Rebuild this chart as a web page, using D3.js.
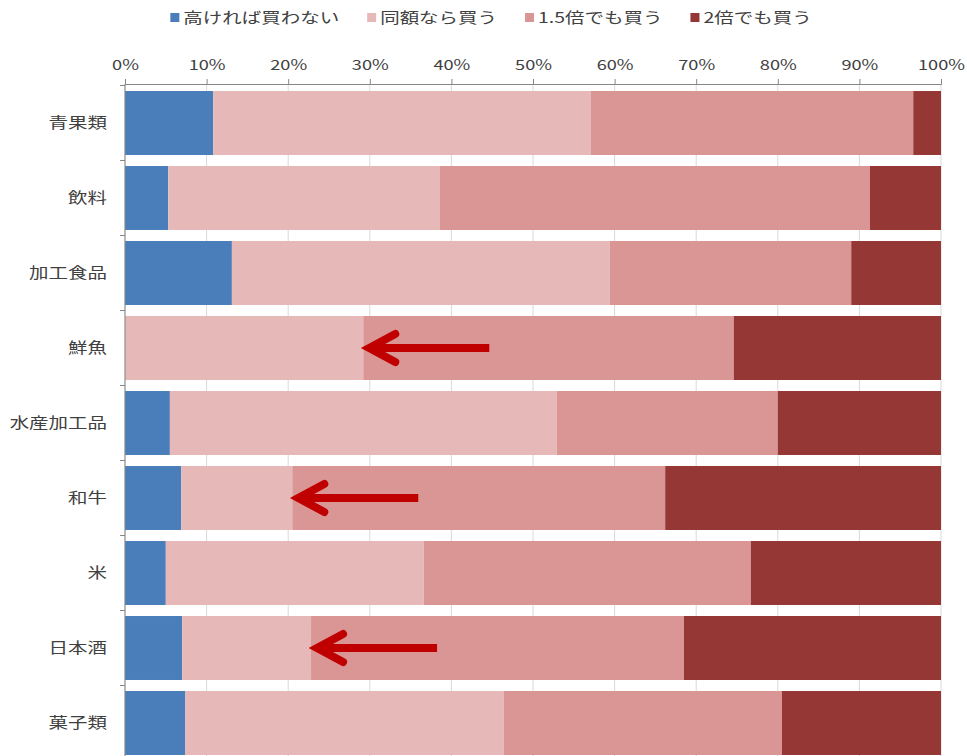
<!DOCTYPE html>
<html>
<head>
<meta charset="utf-8">
<script src="https://cdn.jsdelivr.net/npm/d3@7"></script>
<style>
  html, body { margin: 0; padding: 0; background: #fff; }
  svg { display: block; }
  text { font-family: "Noto Sans CJK JP", "Noto Sans", sans-serif; fill: #404040; }
</style>
</head>
<body>
<svg id="chart" width="967" height="756"></svg>
<script>
// Purchase willingness by product category (percent of respondents)
const categories = ['青果類', '飲料', '加工食品', '鮮魚', '水産加工品', '和牛', '米', '日本酒', '菓子類'];
const seriesNames = ['高ければ買わない', '同額なら買う', '1.5倍でも買う', '2倍でも買う'];
const wontBuy   = [10.8,  5.3, 13.1,  0.0,  5.5,  6.9,  5.0,  7.0,  7.4];
const sameOnly  = [46.3, 33.3, 46.3, 29.2, 47.4, 13.6, 31.6, 15.8, 39.0];
const upTo1_5x  = [39.5, 52.7, 29.6, 45.4, 27.1, 45.7, 40.1, 45.7, 34.1];
const upTo2x    = [ 3.4,  8.7, 11.0, 25.4, 20.0, 33.8, 23.3, 31.5, 19.5];
const tickValues = [0, 10, 20, 30, 40, 50, 60, 70, 80, 90, 100];
const highlighted = ['鮮魚', '和牛', '日本酒'];

const colors = ['#4a7ebb', '#e6b9b8', '#d99694', '#953735'];
const stretch = 1.3; // horizontal stretch applied to labels

const svg = d3.select('#chart');
const margin = { left: 125, right: 26, top: 84 };
const W = 967, H = 756;

const rows = categories.map((c, i) => ({
  category: c,
  [seriesNames[0]]: wontBuy[i],
  [seriesNames[1]]: sameOnly[i],
  [seriesNames[2]]: upTo1_5x[i],
  [seriesNames[3]]: upTo2x[i]
}));

const stacked = d3.stack().keys(seriesNames)(rows);

const x = d3.scaleLinear().domain([0, 100]).range([margin.left, W - margin.right]);
const y = d3.scaleBand().domain(categories).range([85.5, 760.5])
  .paddingInner(0.147).paddingOuter(0.0735);

function widen(sel) {
  sel.each(function () {
    const t = d3.select(this);
    const x0 = +t.attr('x') || 0;
    t.attr('x', x0 / stretch).attr('transform', `scale(${stretch},1)`);
  });
}

// vertical gridlines
svg.append('g')
  .selectAll('line')
  .data(tickValues)
  .join('line')
  .attr('x1', d => x(d)).attr('x2', d => x(d))
  .attr('y1', margin.top).attr('y2', H)
  .attr('stroke', '#d9d9d9').attr('stroke-width', 1);

// stacked bars
svg.append('g')
  .selectAll('g')
  .data(stacked)
  .join('g')
  .attr('fill', (d, i) => colors[i])
  .selectAll('rect')
  .data(d => d)
  .join('rect')
  .attr('x', d => x(d[0]))
  .attr('width', d => x(d[1]) - x(d[0]))
  .attr('y', d => y(d.data.category))
  .attr('height', y.bandwidth());

// top percentage axis
const xAxis = svg.append('g')
  .attr('transform', `translate(0,${margin.top})`)
  .call(d3.axisTop(x).tickValues(tickValues).tickFormat(d => d + '%').tickSize(5).tickPadding(9));
xAxis.select('.domain').attr('stroke', '#868686');
xAxis.selectAll('.tick line').attr('stroke', '#868686');
xAxis.selectAll('.tick text')
  .attr('font-size', 14).attr('fill', '#404040')
  .style('font-family', '"Noto Sans CJK JP", sans-serif')
  .call(widen);

// left category axis with ticks between the bands
const yAxisG = svg.append('g').attr('transform', `translate(${margin.left},0)`);
yAxisG.append('line')
  .attr('x1', 0).attr('x2', 0).attr('y1', margin.top).attr('y2', H)
  .attr('stroke', '#868686');
const step = y.step();
yAxisG.selectAll('line.sep')
  .data(categories)
  .join('line')
  .attr('class', 'sep')
  .attr('x1', -5).attr('x2', 0)
  .attr('y1', d => y(d) - (step - y.bandwidth()) / 2)
  .attr('y2', d => y(d) - (step - y.bandwidth()) / 2)
  .attr('stroke', '#868686');
yAxisG.selectAll('text.cat')
  .data(categories)
  .join('text')
  .attr('class', 'cat')
  .attr('x', -18)
  .attr('y', d => y(d) + y.bandwidth() / 2)
  .attr('dy', '0.35em')
  .attr('text-anchor', 'end')
  .attr('font-size', 15)
  .text(d => d)
  .call(widen);

// legend
const legend = svg.append('g').attr('transform', 'translate(0,18)');
let lx = 0;
const items = [];
seriesNames.forEach((name, i) => {
  const g = legend.append('g');
  g.append('rect').attr('x', 0).attr('y', -5).attr('width', 9).attr('height', 9).attr('fill', colors[i]);
  const t = g.append('text').attr('x', 13).attr('dy', '0.35em').attr('font-size', 15).text(name);
  t.call(widen);
  const w = 13 + t.node().getComputedTextLength() * stretch;
  items.push({ g, w });
});
const gap = 28;
const total = d3.sum(items, d => d.w) + gap * (items.length - 1);
lx = 491 - total / 2;
items.forEach(it => {
  it.g.attr('transform', `translate(${lx},0)`);
  lx += it.w + gap;
});

// arrows pointing at the edge of the "same price" segment
const arrowLen = 126;
const arrows = svg.append('g').attr('stroke', '#c00000').attr('fill', 'none').attr('stroke-width', 8);
highlighted.forEach(cat => {
  const i = categories.indexOf(cat);
  const tip = x(wontBuy[i] + sameOnly[i]);
  const cy = y(cat) + y.bandwidth() / 2;
  arrows.append('line')
    .attr('x1', tip + 8).attr('x2', tip + arrowLen)
    .attr('y1', cy).attr('y2', cy);
  arrows.append('path')
    .attr('d', `M${tip + 32},${cy - 14} L${tip + 6},${cy} L${tip + 32},${cy + 14}`)
    .attr('stroke-linecap', 'round')
    .attr('stroke-linejoin', 'miter')
    .attr('stroke-miterlimit', 10);
});
</script>
</body>
</html>
